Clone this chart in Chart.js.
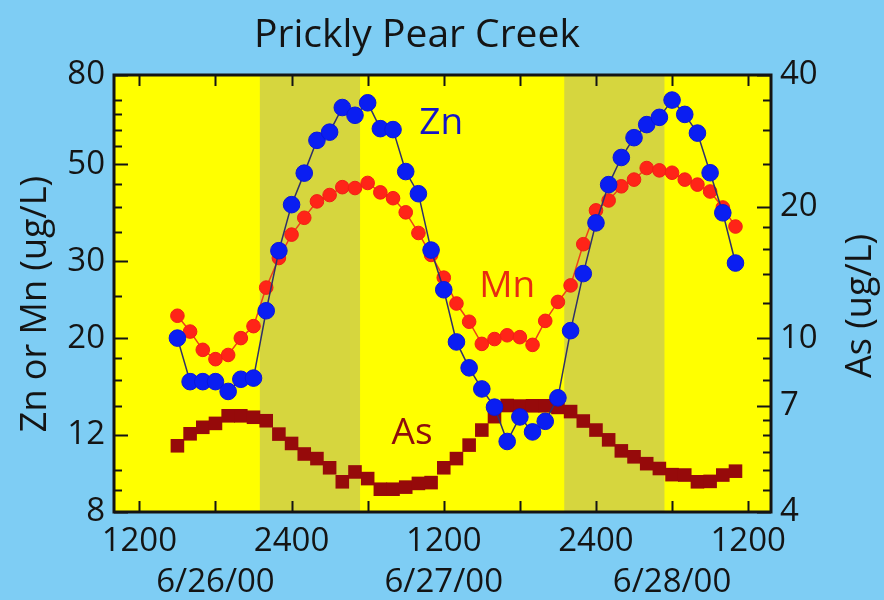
<!DOCTYPE html>
<html>
<head>
<meta charset="utf-8">
<title>Prickly Pear Creek</title>
<script src="https://cdn.jsdelivr.net/npm/chart.js@4.4.0/dist/chart.umd.min.js"></script>
<style>
  html, body { margin: 0; padding: 0; background: #7ecdf4; }
  #wrap { width: 884px; height: 600px; }
</style>
</head>
<body>
<div id="wrap"><canvas id="myChart" width="884" height="600"></canvas></div>
<script>
// hours counted from 0000 on 6/26/00, one sample every hour
const hours = [15, 16, 17, 18, 19, 20, 21, 22, 23, 24, 25, 26, 27, 28, 29, 30, 31, 32, 33, 34, 35, 36, 37,
  38, 39, 40, 41, 42, 43, 44, 45, 46, 47, 48, 49, 50, 51, 52, 53, 54, 55, 56, 57, 58, 59];

// Zn and Mn in ug/L (left axis)
const zn = [20, 15.9, 15.9, 15.9, 15.1, 16.1, 16.2, 23.1, 31.7, 40.4, 47.7, 56.7, 59.2, 67.4, 64.7, 69.1,
  60.3, 60.0, 48.1, 42.8, 31.8, 25.8, 19.6, 17.1, 15.3, 13.9, 11.6, 13.2, 12.2, 12.9, 14.6, 20.8, 28.1,
  36.7, 44.9, 51.8, 57.5, 61.6, 64.0, 70.1, 65.0, 58.9, 47.8, 38.7, 29.7];
const mn = [22.5, 20.7, 18.8, 17.9, 18.3, 20.0, 21.3, 26.1, 30.5, 34.5, 37.7, 41.1, 42.5, 44.3, 44.1, 45.3,
  43.1, 41.8, 38.8, 34.8, 31.0, 27.5, 24.0, 21.8, 19.4, 19.9, 20.3, 20.1, 19.3, 21.9, 24.2, 26.4, 32.8,
  39.2, 41.3, 44.5, 46.1, 49.0, 48.4, 47.8, 46.1, 44.9, 43.3, 39.8, 36.0];
// As in ug/L (right axis)
const as = [5.67, 6.04, 6.25, 6.38, 6.64, 6.64, 6.59, 6.47, 6.03, 5.74, 5.43, 5.30, 5.05, 4.69, 4.94, 4.77,
  4.51, 4.51, 4.56, 4.65, 4.67, 5.05, 5.30, 5.69, 6.16, 6.61, 7.01, 6.99, 7.0, 7.0, 6.94, 6.79, 6.46,
  6.16, 5.85, 5.52, 5.35, 5.16, 5.03, 4.87, 4.86, 4.69, 4.70, 4.86, 4.96];

// night periods (shaded), in hours
const nightStart = [21.5, 45.5];
const nightEnd = [29.4, 53.4];

// axis ticks
const leftTicks = [8, 9, 10, 12, 14, 16, 18, 20, 25, 30, 35, 40, 45, 50, 55, 60, 65, 70, 80];
const leftLabels = [8, 12, 20, 30, 50, 80];
const rightTicks = [4, 4.5, 5, 5.5, 6, 6.5, 7, 8, 9, 10, 12, 14, 16, 18, 20, 25, 30, 35, 40];
const rightLabels = [4, 7, 10, 20, 40];
const timeTicks = [12, 18, 24, 30, 36, 42, 48, 54, 60];
const timeLabels = ["1200", "", "2400", "", "1200", "", "2400", "", "1200"];
const dateLabels = ["", "6/26/00", "", "", "6/27/00", "", "", "6/28/00", ""];

// series names written inside the plot
const tagText = ["Zn", "Mn", "As"];
const tagHour = [35.8, 41, 33.5];
const tagValue = [62, 26.2, 6.06];
const tagAxis = ["y", "y", "y1"];
const tagColor = ["#1414c8", "#e82a10", "#8e0c0c"];

const FONT = "'Open Sans', 'DejaVu Sans', sans-serif";
const INK = "#141414";

const decor = {
  id: "decor",
  beforeDraw(chart) {
    const ctx = chart.ctx;
    const a = chart.chartArea;
    ctx.save();
    ctx.fillStyle = "#7ecdf4";
    ctx.fillRect(0, 0, chart.width, chart.height);
    ctx.fillStyle = "#ffff00";
    ctx.fillRect(a.left, a.top, a.right - a.left, a.bottom - a.top);
    // night bands
    const x = chart.scales.x;
    ctx.fillStyle = "#d6d63e";
    for (let i = 0; i < nightStart.length; i++) {
      const x0 = x.getPixelForValue(nightStart[i]);
      const x1 = x.getPixelForValue(nightEnd[i]);
      ctx.fillRect(x0, a.top, x1 - x0, a.bottom - a.top);
    }
    ctx.restore();
  },
  afterDatasetsDraw(chart) {
    const ctx = chart.ctx;
    const a = chart.chartArea;
    const x = chart.scales.x;
    const y = chart.scales.y;
    const y1 = chart.scales.y1;
    ctx.save();
    ctx.strokeStyle = INK;
    ctx.lineWidth = 2;
    ctx.beginPath();
    // ticks point inward
    leftTicks.forEach(function (v) {
      const p = Math.round(y.getPixelForValue(v)) + 0.5;
      const len = leftLabels.includes(v) ? 14 : 8;
      ctx.moveTo(a.left, p);
      ctx.lineTo(a.left + len, p);
    });
    rightTicks.forEach(function (v) {
      const p = Math.round(y1.getPixelForValue(v)) + 0.5;
      const len = rightLabels.includes(v) ? 14 : 8;
      ctx.moveTo(a.right, p);
      ctx.lineTo(a.right - len, p);
    });
    timeTicks.forEach(function (v) {
      const p = Math.round(x.getPixelForValue(v)) + 0.5;
      ctx.moveTo(p, a.bottom);
      ctx.lineTo(p, a.bottom - 11);
      ctx.moveTo(p, a.top);
      ctx.lineTo(p, a.top + 11);
    });
    ctx.stroke();
    // frame
    ctx.lineWidth = 3;
    ctx.strokeRect(a.left, a.top, a.right - a.left, a.bottom - a.top);

    // series names
    ctx.font = "37px " + FONT;
    ctx.textAlign = "center";
    ctx.textBaseline = "middle";
    for (let i = 0; i < tagText.length; i++) {
      const sc = chart.scales[tagAxis[i]];
      ctx.fillStyle = tagColor[i];
      ctx.fillText(tagText[i], x.getPixelForValue(tagHour[i]), sc.getPixelForValue(tagValue[i]));
    }
    ctx.restore();
  },
  afterDraw(chart) {
    const ctx = chart.ctx;
    ctx.save();
    ctx.fillStyle = INK;
    ctx.textAlign = "center";
    ctx.textBaseline = "middle";
    // title
    ctx.font = "39px " + FONT;
    ctx.fillText("Prickly Pear Creek", 417, 36);
    // axis titles, both read bottom to top
    ctx.font = "36px " + FONT;
    ctx.translate(36, 304);
    ctx.rotate(-Math.PI / 2);
    ctx.fillText("Zn or Mn (ug/L)", 0, 0);
    ctx.setTransform(1, 0, 0, 1, 0, 0);
    ctx.translate(861, 306);
    ctx.rotate(-Math.PI / 2);
    ctx.fillText("As (ug/L)", 0, 0);
    ctx.restore();
  }
};

function points(values) {
  return hours.map(function (h, i) { return { x: h, y: values[i] }; });
}

const ctx = document.getElementById("myChart").getContext("2d");
const myChart = new Chart(ctx, {
  type: "line",
  data: {
    datasets: [
      {
        label: "Zn",
        data: points(zn),
        yAxisID: "y",
        borderColor: "#303068",
        borderWidth: 1.5,
        pointRadius: 8.3,
        pointBackgroundColor: "#0a1ef2",
        pointBorderColor: "#0a18d8",
        pointBorderWidth: 1,
        tension: 0,
      },
      {
        label: "Mn",
        data: points(mn),
        yAxisID: "y",
        borderColor: "#ee4018",
        borderWidth: 1.5,
        pointRadius: 6.8,
        pointBackgroundColor: "#ff2418",
        pointBorderColor: "#f02014",
        pointBorderWidth: 1,
        tension: 0,
      },
      {
        label: "As",
        data: points(as),
        yAxisID: "y1",
        showLine: false,
        pointStyle: "rect",
        pointRadius: 9.6,
        pointBackgroundColor: "#960a0a",
        pointBorderColor: "#960a0a",
        pointBorderWidth: 0,
      },
    ],
  },
  options: {
    responsive: false,
    devicePixelRatio: 1,
    animation: false,
    layout: { padding: { top: 75, left: 0, right: 0, bottom: 0 } },
    plugins: {
      legend: { display: false },
      tooltip: { enabled: false },
      title: { display: false },
    },
    scales: {
      x: {
        type: "linear",
        min: 10,
        max: 61.8,
        grid: { display: false, drawTicks: false },
        border: { display: false },
        afterBuildTicks: function (s) {
          s.ticks = timeTicks.map(function (v) { return { value: v }; });
        },
        afterFit: function (s) { s.height = 88; },
        ticks: {
          autoSkip: false,
          maxRotation: 0,
          minRotation: 0,
          padding: 9,
          color: INK,
          font: { family: FONT, size: 33, lineHeight: 1.25 },
          callback: function (v, i) {
            return dateLabels[i] ? [timeLabels[i], dateLabels[i]] : timeLabels[i];
          },
        },
      },
      y: {
        type: "logarithmic",
        position: "left",
        min: 8,
        max: 80,
        grid: { display: false, drawTicks: false },
        border: { display: false },
        afterBuildTicks: function (s) {
          s.ticks = leftTicks.map(function (v) { return { value: v }; });
        },
        afterFit: function (s) { s.width = 114; },
        ticks: {
          autoSkip: false,
          padding: 9,
          color: INK,
          font: { family: FONT, size: 33 },
          callback: function (v) { return leftLabels.includes(v) ? String(v) : ""; },
        },
      },
      y1: {
        type: "logarithmic",
        position: "right",
        min: 4,
        max: 40,
        grid: { display: false, drawTicks: false },
        border: { display: false },
        afterBuildTicks: function (s) {
          s.ticks = rightTicks.map(function (v) { return { value: v }; });
        },
        afterFit: function (s) { s.width = 113; },
        ticks: {
          autoSkip: false,
          padding: 9,
          color: INK,
          font: { family: FONT, size: 33 },
          callback: function (v) { return rightLabels.includes(v) ? String(v) : ""; },
        },
      },
    },
  },
  plugins: [decor],
});
</script>
</body>
</html>
